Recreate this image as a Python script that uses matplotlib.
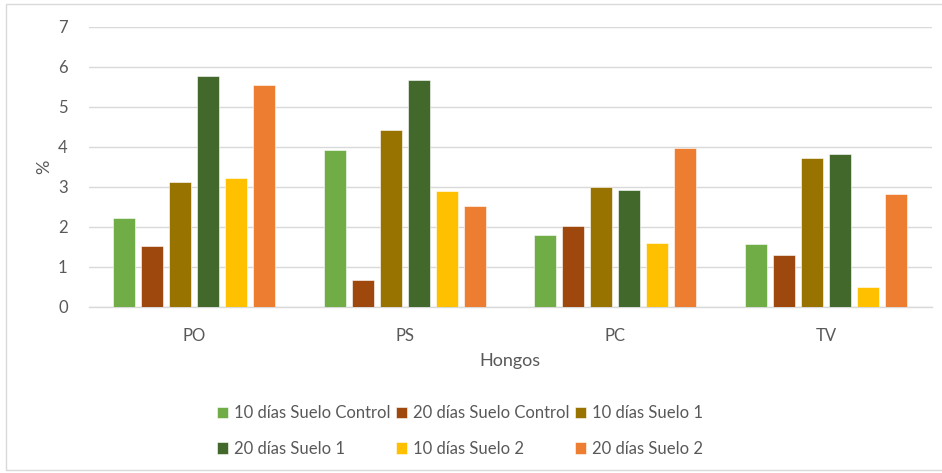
import matplotlib
matplotlib.use("Agg")
import matplotlib.pyplot as plt
from matplotlib.patches import Rectangle
import numpy as np

# Data: percentage per fungus group and treatment
categories = ["PO", "PS", "PC", "TV"]
series_names = [
    "10 días Suelo Control",
    "20 días Suelo Control",
    "10 días Suelo 1",
    "20 días Suelo 1",
    "10 días Suelo 2",
    "20 días Suelo 2",
]
control_10 = [2.21, 3.92, 1.80, 1.56]
control_20 = [1.52, 0.66, 2.01, 1.29]
suelo1_10 = [3.11, 4.41, 2.99, 3.72]
suelo1_20 = [5.76, 5.66, 2.91, 3.82]
suelo2_10 = [3.21, 2.88, 1.58, 0.49]
suelo2_20 = [5.54, 2.51, 3.96, 2.82]
y_ticks = [0, 1, 2, 3, 4, 5, 6, 7]

series_values = [control_10, control_20, suelo1_10, suelo1_20, suelo2_10, suelo2_20]
colors = ["#70AD47", "#9E480E", "#997300", "#43682B", "#FFC000", "#ED7D31"]

plt.rcParams["font.family"] = ["Lato", "DejaVu Sans"]
text_color = "#595959"
grid_color = "#D9D9D9"

W, H = 942, 473
fig = plt.figure(figsize=(W / 100, H / 100), dpi=100)
ax = fig.add_axes([88.5 / W, 1 - 306.7 / H, (931.5 - 88.5) / W, (306.7 - 26.7) / H])

x = np.arange(len(categories))
step = 0.133
bar_w = 0.104
handles = []
for i, (vals, name, col) in enumerate(zip(series_values, series_names, colors)):
    h = ax.bar(x + (i - 2.5) * step, vals, width=bar_w, color=col, label=name,
               edgecolor="white", linewidth=0.4, zorder=3)
    handles.append(h)

ax.set_xlim(-0.5, len(categories) - 0.5)
ax.set_ylim(0, 7)
ax.set_yticks(y_ticks)
ax.set_yticklabels([str(t) for t in y_ticks])
ax.set_xticks(x)
ax.set_xticklabels(categories)
ax.grid(axis="y", color=grid_color, linewidth=1.0, zorder=0)
ax.set_axisbelow(True)
for s in ["top", "right", "left"]:
    ax.spines[s].set_visible(False)
ax.spines["bottom"].set_color(grid_color)
ax.spines["bottom"].set_linewidth(1.0)
ax.tick_params(axis="both", length=0, colors=text_color, labelsize=12)
ax.tick_params(axis="y", pad=15)
ax.tick_params(axis="x", pad=15)

ax.set_xlabel("Hongos", color=text_color, fontsize=13, labelpad=7)
ax.set_ylabel("%", color=text_color, fontsize=13, labelpad=4)

# Legend laid out row by row (matplotlib fills columns first)
order = [0, 3, 1, 4, 2, 5]
leg = fig.legend([handles[k] for k in order], [series_names[k] for k in order],
                 loc="center", bbox_to_anchor=(460 / W, 1 - 431 / H), ncol=3,
                 frameon=False, fontsize=12, handlelength=0.7, handleheight=0.7,
                 handletextpad=0.35, columnspacing=0.3, labelspacing=1.15,
                 labelcolor=text_color)

# Chart area border
fig.patches.append(Rectangle((6 / W, 3 / H), (W + 10 - 6) / W, (H - 7) / H,
                             transform=fig.transFigure, fill=False,
                             edgecolor=grid_color, linewidth=1.0))

fig.savefig("out.png", dpi=100)
